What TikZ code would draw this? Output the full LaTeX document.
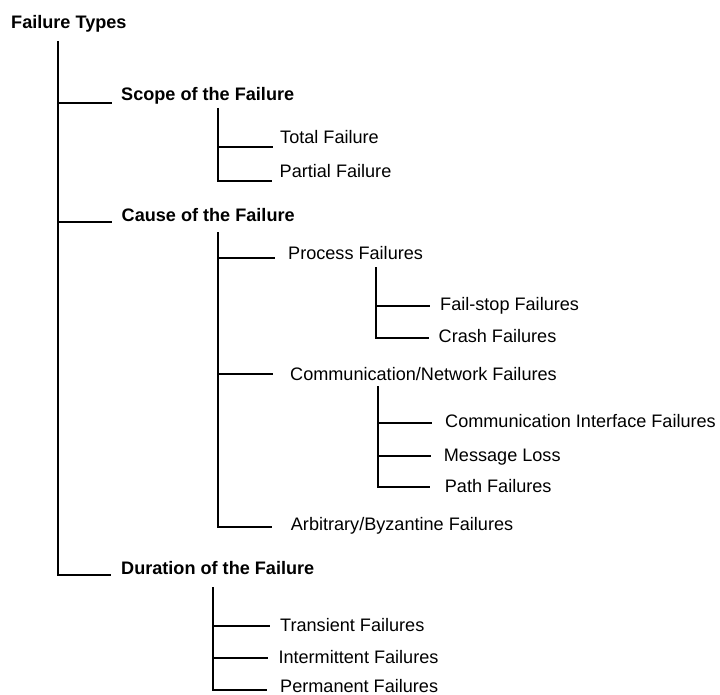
\documentclass[tikz,border=0pt]{standalone}
\usepackage{fontspec}
\setmainfont{Liberation Sans}
\begin{document}
\begin{tikzpicture}[x=1pt,y=-1pt,
  label/.style={anchor=base west,inner sep=0pt,font=\fontsize{18.1}{20}\selectfont},
  head/.style={label,font=\fontsize{18.1}{20}\selectfont\bfseries},
  branch/.style={line width=2pt,black}]
\useasboundingbox (0,0) rectangle (720,695);

% labels
\node[head]  (root)         at (11,28.3)    {Failure Types};
\node[head]  (scope)        at (121,101)    {Scope of the Failure};
\node[label] (total)        at (280,143.5)  {Total Failure};
\node[label] (partial)      at (279.5,177.5){Partial Failure};
\node[head]  (cause)        at (121.5,222)  {Cause of the Failure};
\node[label] (process)      at (288,259)    {Process Failures};
\node[label] (failstop)     at (440,310.5)  {Fail-stop Failures};
\node[label] (crash)        at (438.5,342)  {Crash Failures};
\node[label] (comm)         at (290,380)    {Communication/Network Failures};
\node[label] (iface)        at (445,427)    {Communication Interface Failures};
\node[label] (msgloss)      at (443.7,461)  {Message Loss};
\node[label] (path)         at (444.7,492.7){Path Failures};
\node[label] (arb)          at (290.7,530.7){Arbitrary/Byzantine Failures};
\node[head]  (duration)     at (121,574)    {Duration of the Failure};
\node[label] (transient)    at (280,631.7)  {Transient Failures};
\node[label] (intermittent) at (278.3,663.3){Intermittent Failures};
\node[label] (permanent)    at (280,692.6)  {Permanent Failures};

% stem tops
\coordinate (root-stem)     at (58,41);
\coordinate (scope-stem)    at (218,108);
\coordinate (cause-stem)    at (218,232);
\coordinate (process-stem)  at (376,267);
\coordinate (comm-stem)     at (378,386);
\coordinate (duration-stem) at (213,587);

% branch ends, just left of each label
\coordinate (scope-in)        at (112,103);
\coordinate (cause-in)        at (112,222);
\coordinate (duration-in)     at (111,575);
\coordinate (total-in)        at (273,147);
\coordinate (partial-in)      at (272,181);
\coordinate (process-in)      at (275,258);
\coordinate (comm-in)         at (273,374);
\coordinate (arb-in)          at (272,527);
\coordinate (failstop-in)     at (430,306);
\coordinate (crash-in)        at (429,338);
\coordinate (iface-in)        at (432,423);
\coordinate (msgloss-in)      at (431,456);
\coordinate (path-in)         at (430,487);
\coordinate (transient-in)    at (270,626);
\coordinate (intermittent-in) at (268,658);
\coordinate (permanent-in)    at (267,690);

% Failure Types
\draw[branch] (root-stem) |- (duration-in);
\draw[branch] (root-stem |- scope-in) -- (scope-in);
\draw[branch] (root-stem |- cause-in) -- (cause-in);

% Scope of the Failure
\draw[branch] (scope-stem) |- (partial-in);
\draw[branch] (scope-stem |- total-in) -- (total-in);

% Cause of the Failure
\draw[branch] (cause-stem) |- (arb-in);
\draw[branch] (cause-stem |- process-in) -- (process-in);
\draw[branch] (cause-stem |- comm-in) -- (comm-in);

% Process Failures
\draw[branch] (process-stem) |- (crash-in);
\draw[branch] (process-stem |- failstop-in) -- (failstop-in);

% Communication/Network Failures
\draw[branch] (comm-stem) |- (path-in);
\draw[branch] (comm-stem |- iface-in) -- (iface-in);
\draw[branch] (comm-stem |- msgloss-in) -- (msgloss-in);

% Duration of the Failure
\draw[branch] (duration-stem) |- (permanent-in);
\draw[branch] (duration-stem |- transient-in) -- (transient-in);
\draw[branch] (duration-stem |- intermittent-in) -- (intermittent-in);
\end{tikzpicture}
\end{document}
